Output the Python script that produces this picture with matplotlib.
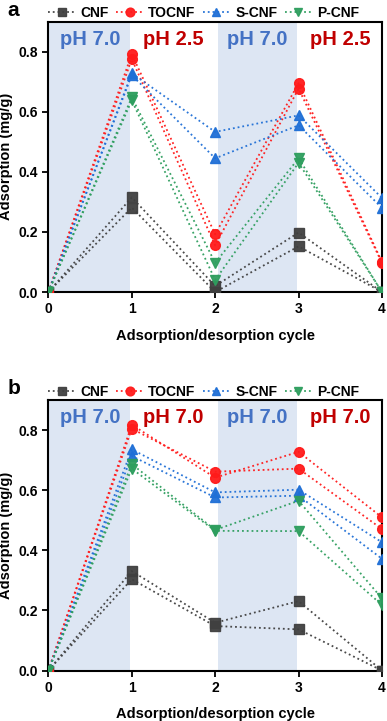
import matplotlib.pyplot as plt

plt.rcParams['font.family'] = ['Liberation Sans', 'DejaVu Sans']
plt.rcParams['font.weight'] = 'bold'

cycles = [0, 1, 2, 3, 4]
names = ['CNF', 'TOCNF', 'S-CNF', 'P-CNF']

# panel a: two replicate runs per material
cnf_a = [[0, 0.315, 0.02, 0.198, 0.0], [0, 0.281, 0.0, 0.152, 0.0]]
tocnf_a = [[0, 0.792, 0.192, 0.695, 0.100], [0, 0.775, 0.155, 0.677, 0.097]]
scnf_a = [[0, 0.728, 0.533, 0.588, 0.313], [0, 0.722, 0.445, 0.555, 0.280]]
pcnf_a = [[0, 0.648, 0.097, 0.445, 0.0], [0, 0.638, 0.040, 0.430, 0.0]]
ph_a = ['pH 7.0', 'pH 2.5', 'pH 7.0', 'pH 2.5']

# panel b
cnf_b = [[0, 0.331, 0.159, 0.231, 0.0], [0, 0.304, 0.148, 0.137, 0.0]]
tocnf_b = [[0, 0.818, 0.642, 0.728, 0.510], [0, 0.805, 0.662, 0.672, 0.471]]
scnf_b = [[0, 0.736, 0.593, 0.602, 0.427], [0, 0.714, 0.576, 0.582, 0.372]]
pcnf_b = [[0, 0.687, 0.468, 0.565, 0.240], [0, 0.672, 0.465, 0.464, 0.218]]
ph_b = ['pH 7.0', 'pH 7.0', 'pH 7.0', 'pH 7.0']

colors = ['#404040', '#ff1a1a', '#1f6fd6', '#2e9e5e']
markers = ['s', 'o', '^', 'v']
ph_colors = ['#4472c4', '#c00000', '#4472c4', '#c00000']  # alternating stages


def draw_panel(fig, ax, series, ph_labels, letter):
    # shaded first-stage regions
    ax.axvspan(0, 0.98, color='#dde6f3', zorder=0, lw=0)
    ax.axvspan(2.03, 2.98, color='#dde6f3', zorder=0, lw=0)
    for name, runs, c, m in zip(names, series, colors, markers):
        for i, run in enumerate(runs):
            ax.plot(cycles, run, linestyle=':', color=c, lw=1.3, marker=m,
                    markersize=7, alpha=0.95, label=name if i == 0 else None, zorder=3)
    for k, lab in enumerate(ph_labels):
        ax.text(k + 0.5, 0.842, lab, color=ph_colors[k], fontsize=14.5,
                fontweight='bold', ha='center', va='center')
    ax.set_xlim(0, 4)
    ax.set_ylim(0, 0.9)
    ax.set_xticks([0, 1, 2, 3, 4])
    ax.set_yticks([0, 0.2, 0.4, 0.6, 0.8])
    ax.set_yticklabels(['0.0', '0.2', '0.4', '0.6', '0.8'])
    ax.tick_params(labelsize=10, width=1.3, length=4)
    for s in ax.spines.values():
        s.set_linewidth(1.5)
    ax.set_xlabel('Adsorption/desorption cycle', fontsize=10.5, fontweight='bold', labelpad=9)
    ax.set_ylabel('Adsorption (mg/g)', fontsize=10.5, fontweight='bold')
    ax.legend(loc='lower left', bbox_to_anchor=(0.0, 1.005), ncol=4, frameon=False,
              fontsize=10, handlelength=1.9, handletextpad=0.4, columnspacing=0.55,
              borderaxespad=0.0, borderpad=0.0, markerscale=0.9)
    pos = ax.get_position()
    fig.text(0.02, pos.y1 + 0.016, letter, fontsize=15, fontweight='bold',
             ha='left', va='center')


fig = plt.figure(figsize=(3.87, 7.21), dpi=100)
ax1 = fig.add_axes([0.125, 0.595, 0.862, 0.375])
ax2 = fig.add_axes([0.125, 0.07, 0.862, 0.375])

draw_panel(fig, ax1, [cnf_a, tocnf_a, scnf_a, pcnf_a], ph_a, 'a')
draw_panel(fig, ax2, [cnf_b, tocnf_b, scnf_b, pcnf_b], ph_b, 'b')

fig.savefig('out.png', dpi=100)
